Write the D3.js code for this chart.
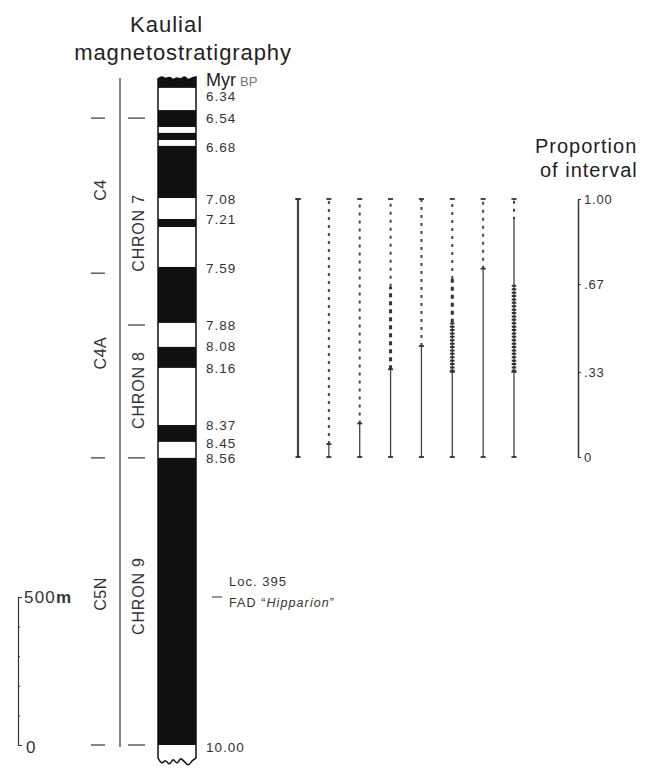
<!DOCTYPE html>
<html>
<head>
<meta charset="utf-8">
<script src="https://cdn.jsdelivr.net/npm/d3@7"></script>
<style>
  body { margin: 0; background: #fff; }
  svg { font-family: "Liberation Sans", Arial, sans-serif; }
</style>
</head>
<body>
<svg id="chart" width="648" height="768"></svg>
<script>
// stratigraphic height in metres above the 10.00 Myr level
const columnTop = 2257;
const columnBase = -57;
const normalIntervals = [
  [2257, 2220], [2145, 2088], [2068, 2044], [2024, 1848], [1777, 1750],
  [1615, 1426], [1345, 1274], [1081, 1024], [970, 0]
];
const ageLabels = ['6.34', '6.54', '6.68', '7.08', '7.21', '7.59', '7.88', '8.08', '8.16', '8.37', '8.45', '8.56', '10.00'];
const ageDepths = [2192, 2118, 2020, 1844, 1777, 1611, 1419, 1348, 1274, 1081, 1020, 970, -7];

const epochNames = ['C4', 'C4A', 'C5N'];
const epochBounds = [2118, 1594, 970, 0];
const epochLabelDepths = [1875, 1324, 510];
const chronNames = ['CHRON 7', 'CHRON 8', 'CHRON 9'];
const chronBounds = [2118, 1419, 970, 0];
const chronLabelDepths = [1730, 1199, 503];

const scaleTicks = [0, 100, 200, 300, 400, 500];
const locDepth = 500;

// proportion of interval, one bar per column
const barSegments = [
  [[0, 1, 'solid']],
  [[0, 0.05, 'solid'], [0.05, 1, 'dash']],
  [[0, 0.13, 'solid'], [0.13, 1, 'dash']],
  [[0, 0.34, 'solid'], [0.34, 0.66, 'bold'], [0.66, 1, 'dash']],
  [[0, 0.43, 'solid'], [0.43, 1, 'dash']],
  [[0, 0.33, 'solid'], [0.33, 0.52, 'bead'], [0.52, 0.69, 'bold'], [0.69, 1, 'dash']],
  [[0, 0.73, 'solid'], [0.73, 1, 'dash']],
  [[0, 0.33, 'solid'], [0.33, 0.67, 'bead'], [0.67, 0.92, 'solid'], [0.92, 1, 'dash']]
];
const propTicks = [0, 0.33, 0.67, 1];
const propTickLabels = ['0', '.33', '.67', '1.00'];

// ragged ends of the column (px offsets)
const raggedTop = [2, 0, 1.5, 0.5, 2.5, 1, 2, 0, 2.5, 1, 0];
const raggedBase = [0, 5, 3, 6, 2, 5, 1, 4, 7, 3, 0];

const svg = d3.select('#chart');
const y = d3.scaleLinear().domain([0, 500]).range([745, 597]);
const colLeft = 158;
const colRight = 196;
const colX = d3.scaleLinear().domain([0, raggedTop.length - 1]).range([colLeft, colRight]);

// title
svg.append('text').attr('x', 130).attr('y', 32)
  .attr('font-size', 22).attr('letter-spacing', 1).attr('fill', '#222').text('Kaulial');
svg.append('text').attr('x', 183).attr('y', 60).attr('text-anchor', 'middle')
  .attr('font-size', 22).attr('letter-spacing', 0.9).attr('fill', '#222').text('magnetostratigraphy');

// column outline
const edge = d3.line().curve(d3.curveCatmullRom);
const topEdge = raggedTop.map((d, i) => [colX(i), y(columnTop) + d]);
const baseEdge = raggedBase.map((d, i) => [colX(i), y(columnBase) - 4 + d]).reverse();
const outline = edge(topEdge) + 'L' + edge(baseEdge).slice(1) + 'Z';

svg.append('clipPath').attr('id', 'col').append('path').attr('d', outline);
svg.append('path').attr('d', outline).attr('fill', '#fff');
svg.append('g').attr('clip-path', 'url(#col)')
  .selectAll('rect').data(normalIntervals).enter().append('rect')
  .attr('x', colLeft)
  .attr('y', d => y(d[0]) - (d[0] === columnTop ? 5 : 0))
  .attr('width', colRight - colLeft)
  .attr('height', d => y(d[1]) - y(d[0]) + (d[0] === columnTop ? 5 : 0))
  .attr('fill', '#111');
svg.append('path').attr('d', outline).attr('fill', 'none')
  .attr('stroke', '#111').attr('stroke-width', 1.5);

// ages
svg.append('text').attr('x', 206).attr('y', 86).attr('fill', '#222')
  .call(t => t.append('tspan').attr('font-size', 18).text('Myr'))
  .call(t => t.append('tspan').attr('font-size', 13).attr('fill', '#777').attr('dx', 4).text('BP'));
svg.append('g').selectAll('text').data(ageLabels).enter().append('text')
  .attr('x', 206).attr('y', (d, i) => y(ageDepths[i])).attr('dy', '0.36em')
  .attr('font-size', 13.5).attr('letter-spacing', 1).attr('fill', '#333')
  .text(d => d);

// polarity bracket
svg.append('line').attr('x1', 120).attr('x2', 120)
  .attr('y1', y(columnTop) + 1).attr('y2', y(0) + 2)
  .attr('stroke', '#333').attr('stroke-width', 1.2);
svg.append('g').selectAll('line').data(epochBounds).enter().append('line')
  .attr('x1', 91).attr('x2', 105).attr('y1', d => y(d)).attr('y2', d => y(d))
  .attr('stroke', '#333').attr('stroke-width', 1.2);
svg.append('g').selectAll('line').data(chronBounds).enter().append('line')
  .attr('x1', 128).attr('x2', 145).attr('y1', d => y(d)).attr('y2', d => y(d))
  .attr('stroke', '#333').attr('stroke-width', 1.2);
svg.append('g').selectAll('text').data(epochNames).enter().append('text')
  .attr('transform', (d, i) => `translate(106,${y(epochLabelDepths[i])}) rotate(-90)`)
  .attr('text-anchor', 'middle').attr('font-size', 16).attr('letter-spacing', 0.5)
  .attr('fill', '#333').text(d => d);
svg.append('g').selectAll('text').data(chronNames).enter().append('text')
  .attr('transform', (d, i) => `translate(144,${y(chronLabelDepths[i])}) rotate(-90)`)
  .attr('text-anchor', 'middle').attr('font-size', 16).attr('letter-spacing', 0.8)
  .attr('fill', '#333').text(d => d);

// metre scale
const scaleAxis = svg.append('g').attr('transform', 'translate(18,0)')
  .call(d3.axisRight(y).tickValues(scaleTicks).tickSize(2).tickSizeOuter(0).tickFormat(''));
scaleAxis.select('.domain').attr('stroke', '#333').attr('stroke-width', 1.2);
scaleAxis.selectAll('.tick line').attr('stroke', '#333')
  .attr('x2', d => (d === 0 || d === 500 ? 4 : 2));
svg.append('text').attr('x', 24).attr('y', y(500)).attr('dy', '0.36em')
  .attr('font-size', 17).attr('letter-spacing', 1.2).attr('fill', '#333')
  .call(t => t.append('tspan').text('500'))
  .call(t => t.append('tspan').attr('font-weight', 'bold').text('m'));
svg.append('text').attr('x', 26).attr('y', y(0)).attr('dy', '0.45em')
  .attr('font-size', 17).attr('fill', '#333').text('0');

// locality
svg.append('line').attr('x1', 212).attr('x2', 222).attr('y1', y(locDepth)).attr('y2', y(locDepth))
  .attr('stroke', '#333').attr('stroke-width', 1);
svg.append('text').attr('x', 229).attr('y', y(locDepth) - 11).attr('font-size', 13)
  .attr('letter-spacing', 1).attr('fill', '#333').text('Loc. 395');
svg.append('text').attr('x', 229).attr('y', y(locDepth) + 10).attr('font-size', 12.5)
  .attr('letter-spacing', 1.1).attr('fill', '#333')
  .call(t => t.append('tspan').text('FAD \u201C'))
  .call(t => t.append('tspan').attr('font-style', 'italic').text('Hipparion'))
  .call(t => t.append('tspan').text('\u201D'));

// proportion bars
const px = d3.scalePoint().domain(d3.range(barSegments.length)).range([298, 514]);
const p = d3.scaleLinear().domain([0, 1]).range([457, 199]);
const styles = {
  solid: { w: 1.3, dash: null, c: '#444' },
  dash: { w: 2, dash: '3,5', c: '#444' },
  bold: { w: 3, dash: '4,4', c: '#333' },
  bead: { w: 4.5, dash: '2,1.4', c: '#333' }
};
const bars = svg.append('g').selectAll('g').data(barSegments).enter().append('g');
bars.each(function (segs, i) {
  const g = d3.select(this);
  const x = px(i);
  segs.forEach(s => {
    const st = styles[s[2]];
    if (s[2] === 'bead') {
      g.append('line').attr('x1', x).attr('x2', x).attr('y1', p(s[0])).attr('y2', p(s[1]))
        .attr('stroke', '#444').attr('stroke-width', 1.3);
    }
    g.append('line').attr('x1', x).attr('x2', x).attr('y1', p(s[0])).attr('y2', p(s[1]))
      .attr('stroke', st.c).attr('stroke-width', i === 0 ? 2.2 : st.w)
      .attr('stroke-dasharray', st.dash);
  });
  const caps = [0, 1, segs[0][1]];
  g.selectAll('.cap').data(caps).enter().append('line')
    .attr('x1', x - 2.5).attr('x2', x + 2.5).attr('y1', d => p(d)).attr('y2', d => p(d))
    .attr('stroke', '#333').attr('stroke-width', 1.8);
});

// proportion axis
const pAxis = svg.append('g').attr('transform', 'translate(578,0)')
  .call(d3.axisRight(p).tickValues(propTicks).tickSize(3).tickSizeOuter(0)
    .tickFormat((d, i) => propTickLabels[i]));
pAxis.select('.domain').attr('stroke', '#333').attr('stroke-width', 1.5);
pAxis.selectAll('.tick line').attr('stroke', '#333');
pAxis.selectAll('.tick text').attr('font-family', '"Liberation Sans", Arial, sans-serif')
  .attr('font-size', 13).attr('fill', '#333').attr('x', 6).attr('letter-spacing', 0.8);

svg.append('text').attr('x', 535).attr('y', 153).attr('font-size', 20)
  .attr('letter-spacing', 1).attr('fill', '#222').text('Proportion');
svg.append('text').attr('x', 540).attr('y', 177).attr('font-size', 20)
  .attr('letter-spacing', 1).attr('fill', '#222').text('of interval');
</script>
</body>
</html>
